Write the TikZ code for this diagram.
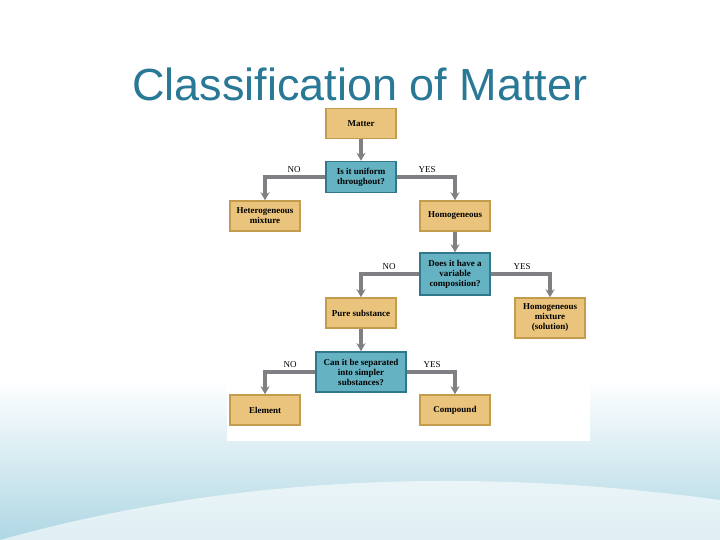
\documentclass[tikz,border=0pt]{standalone}
\usetikzlibrary{arrows.meta}
\usepackage{fontspec}
\setmainfont{Liberation Serif}
\newfontfamily\titlefont{Liberation Sans}
\definecolor{tanf}{RGB}{234,196,124}
\definecolor{tanb}{RGB}{196,156,78}
\definecolor{tealf}{RGB}{100,178,194}
\definecolor{tealb}{RGB}{50,120,140}
\definecolor{arr}{RGB}{128,128,132}
\definecolor{titlec}{RGB}{40,120,150}
\definecolor{bgb}{RGB}{175,215,228}
\begin{document}
\begin{tikzpicture}[x=1pt,y=-1pt,
  box/.style={draw=tanb,line width=1.5pt,fill=tanf,minimum width=70pt,minimum height=30pt,align=center,font=\fontsize{9}{10}\selectfont\bfseries,inner sep=1pt},
  qbox/.style={box,draw=tealb,fill=tealf},
  con/.style={draw=arr,line width=3.5pt,-{Stealth[length=8pt,width=9pt]}},
  lab/.style={font=\fontsize{9}{10}\selectfont}]
\useasboundingbox (0,0) rectangle (720,540);
\shade[top color=white,bottom color=bgb] (0,380) rectangle (720,540);
\fill[white,opacity=0.6] (0,540) .. controls (250,470) and (500,470) .. (720,500) -- (720,540) -- cycle;
\node[font=\titlefont\fontsize{45}{50}\selectfont,text=titlec] (title) at (360,84) {Classification of Matter};
\fill[white] (227,108) rectangle (590,441);
\node[box] (matter) at (361,123.5) {Matter};
\node[qbox,minimum height=31pt] (unif) at (361,177) {Is it uniform\\throughout?};
\node[box] (het) at (265,216) {Heterogeneous\\mixture};
\node[box] (hom) at (455,216) {Homogeneous};
\node[qbox,minimum height=42pt] (var) at (455,274) {Does it have a\\variable\\composition?};
\node[box] (pure) at (361,313) {Pure substance};
\node[box,minimum height=40pt] (sol) at (550,318) {Homogeneous\\mixture\\(solution)};
\node[qbox,minimum width=90pt,minimum height=40pt] (sep) at (361,372) {Can it be separated\\into simpler\\substances?};
\node[box] (elem) at (265,410) {Element};
\node[box] (comp) at (455,410) {Compound};
\draw[con] (matter) -- (unif);
\draw[con] (unif.west) -| (het.north);
\draw[con] (unif.east) -| (hom.north);
\draw[con] (hom) -- (var);
\draw[con] (var.west) -| (pure.north);
\draw[con] (var.east) -| (sol.north);
\draw[con] (pure) -- (sep);
\draw[con] (sep.west) -| (elem.north);
\draw[con] (sep.east) -| (comp.north);
\node[lab] (l1) at (294,170) {NO};
\node[lab] (l2) at (427,170) {YES};
\node[lab] (l3) at (389,267) {NO};
\node[lab] (l4) at (522,267) {YES};
\node[lab] (l5) at (290,365) {NO};
\node[lab] (l6) at (432,365) {YES};
\end{tikzpicture}
\end{document}
